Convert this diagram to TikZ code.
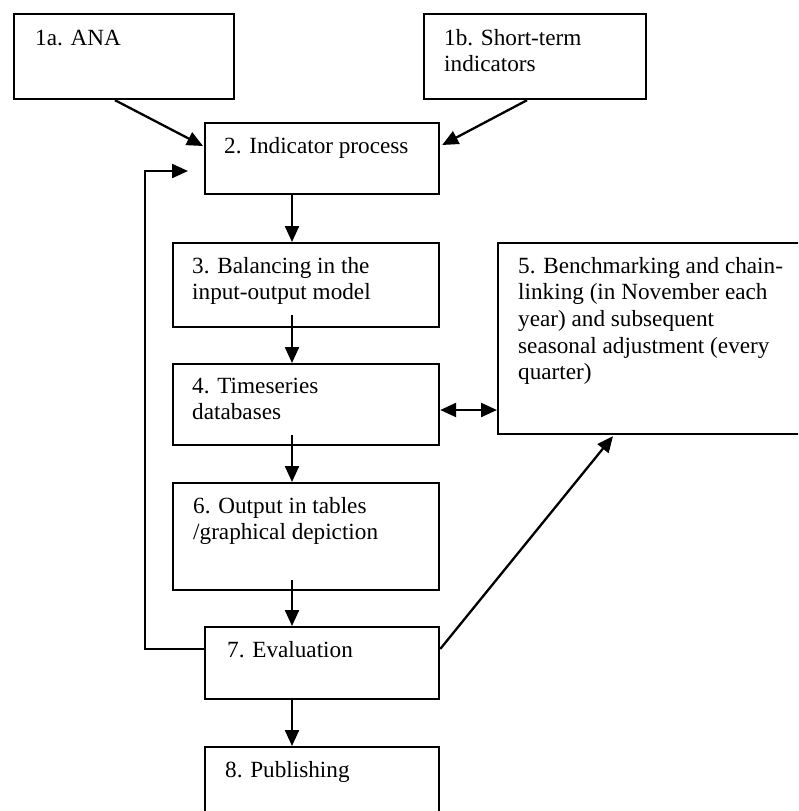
\documentclass[tikz,border=0pt]{standalone}
\usepackage{fontspec}
\setmainfont{Liberation Serif}
\usetikzlibrary{arrows.meta,calc}
\begin{document}
\begin{tikzpicture}[x=1pt,y=1pt,
  boxnode/.style={draw=black, line width=2.2pt, fill=none, inner sep=0pt, anchor=north west},
  txt/.style={anchor=base west, inner sep=0pt, align=left, font=\fontsize{23.2}{26.7}\selectfont},
  conn/.style={line width=2.3pt, -{Triangle[length=16pt,width=14pt]}},
  dconn/.style={line width=2.3pt, {Triangle[length=16pt,width=14pt]}-{Triangle[length=16pt,width=14pt]}}
]
\useasboundingbox (0,0) rectangle (798,-811);
\clip (0,0) rectangle (798,-811);
\fill[white] (0,0) rectangle (798,-811);
% boxes
\node[boxnode, minimum width=220pt, minimum height=85pt] (b1a) at (13,-13) {};
\node[boxnode, minimum width=222pt, minimum height=85pt] (b1b) at (423,-13) {};
\node[boxnode, minimum width=234pt, minimum height=71pt] (b2) at (204,-122) {};
\node[boxnode, minimum width=266pt, minimum height=84pt] (b3) at (172,-242) {};
\node[boxnode, minimum width=320pt, minimum height=191pt] (b5) at (497,-242) {};
\node[boxnode, minimum width=266pt, minimum height=81pt] (b4) at (172,-363) {};
\node[boxnode, minimum width=266pt, minimum height=107pt] (b6) at (172,-482) {};
\node[boxnode, minimum width=234pt, minimum height=72pt] (b7) at (204,-626) {};
\node[boxnode, minimum width=234pt, minimum height=90pt] (b8) at (204,-746) {};
% texts (anchor = baseline of last line)
\node[txt] (t1a) at ($(b1a.north west)+(22,-32)$) {1a. ANA};
\node[txt] (t1b) at ($(b1b.north west)+(21,-58.7)$) {1b. Short-term\\indicators};
\node[txt] (t2) at ($(b2.north west)+(20,-31)$) {2. Indicator process};
\node[txt] (t3) at ($(b3.north west)+(20,-57.7)$) {3. Balancing in the\\input-output model};
\node[txt] (t5) at ($(b5.north west)+(21,-137.8)$) {5. Benchmarking and chain-\\linking (in November each\\year) and subsequent\\seasonal adjustment (every\\quarter)};
\node[txt] (t4) at ($(b4.north west)+(20,-56.7)$) {4. Timeseries\\databases};
\node[txt] (t6) at ($(b6.north west)+(21,-57.7)$) {6. Output in tables\\/graphical depiction};
\node[txt] (t7) at ($(b7.north west)+(23,-31)$) {7. Evaluation};
\node[txt] (t8) at ($(b8.north west)+(21,-31)$) {8. Publishing};
% connectors
\coordinate (col) at (292,0);
\draw[conn] ($(b1a.south west)+(102,0)$) -- ($(b2.north west)+(-1,-24)$);
\draw[conn] ($(b1b.south west)+(104,0)$) -- ($(b2.north east)+(2,-23)$);
\draw[conn] (b2.south -| col) -- (b3.north -| col);
\draw[conn] ($(b3.south -| col)+(0,13)$) -- (b4.north -| col);
\draw[conn] ($(b4.south -| col)+(0,11)$) -- (b6.north -| col);
\draw[conn] ($(b6.south -| col)+(0,11)$) -- (b7.north -| col);
\draw[conn] (b7.south -| col) -- (b8.north -| col);
\draw[dconn] ($(b4.north east)+(0,-47)$) -- ($(b5.north west)+(0,-168)$);
\draw[conn] ($(b7.north east)+(0,-23)$) -- ($(b5.south west)+(116,-1)$);
\draw[conn] ($(b7.north west)+(0,-23)$) -| ($(b2.north west)+(-59,-49)$) -- ($(b2.north west)+(-16,-49)$);
\end{tikzpicture}
\end{document}
